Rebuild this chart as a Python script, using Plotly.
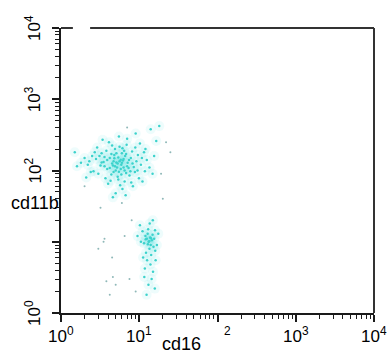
import math
import plotly.graph_objects as go

# Cluster 1 (CD11b high, CD16 low)
c1_x = [5.1,4.6,5.8,6.3,4.2,3.9,5.5,7.1,4.8,6.0,
        3.5,3.2,2.8,2.5,2.2,7.8,8.5,9.2,6.8,5.3,
        4.4,3.7,6.5,7.5,8.8,10.5,11.8,12.5,4.9,5.6,
        3.8,6.9,4.1,2.9,3.3,8.1,9.6,5.2,5.9,4.7,
        5.4,6.2,4.5,5.0,6.6,3.6,7.3,4.3,5.7,6.1,
        4.0,7.9,3.0,2.6,2.3,2.0,1.8,1.6,1.5,9.9,
        11.0,8.3,5.0,6.7,4.6,13.5,14.8,15.5,12.0,10.2,
        7.0,5.5,3.4,9.0,14.0,16.5,18.0,6.4,5.1,4.8,
        5.3,5.6,6.0,4.9,5.8,6.3,4.4,3.9,7.4,8.2,
        7.0,6.8,3.1,2.7,2.4,2.1,9.5,10.8,11.5,8.9,
        4.2,5.9,6.5,3.6,7.7,4.7,5.4,3.3,6.1,4.5]
c1_y = [130,118,142,110,150,105,96,128,165,175,
        132,118,145,160,120,150,112,135,92,82,
        88,78,70,85,95,120,98,140,200,215,
        190,230,250,210,175,185,165,110,120,135,
        152,138,125,100,160,155,108,72,62,55,
        65,68,90,98,135,150,128,115,180,78,
        70,60,48,45,42,110,90,160,200,240,
        280,300,270,330,380,260,420,190,175,148,
        125,135,128,115,105,145,170,140,140,125,
        115,170,160,180,95,80,100,150,180,210,
        108,88,100,115,98,95,75,130,205,225]

# Cluster 2 (CD11b low, CD16 ~10)
c2_x = [12.5,13.2,14.0,12.0,13.8,14.5,11.5,15.2,12.8,13.5,
        14.8,16.0,11.0,12.2,15.5,13.0,10.5,16.8,14.2,12.6,
        13.9,11.8,15.0,14.4,13.1,15.8,12.4,16.2,11.2,10.2,
        13.6,14.9,9.5,17.5,12.9,13.4,14.1,12.1,15.9,11.6]
c2_y = [11,10,9,12,11.5,10.5,9.5,8.5,13,8,
        12.5,7.5,14,7,11,15,10,9,6.5,5.5,
        4.8,4.2,3.8,3.0,2.5,2.2,1.8,5.5,6,17,
        18,20,12,13,9.2,10.2,11.2,10.8,14.5,3.2]

# Scattered events
o_x = [8.0,6.5,4.5,5.0,7.5,4.2,9.0,3.2,6.0,20,3.0,22,25,19,7.0,2.0,3.5,3.8,4.6,3.6]
o_y = [20,12,6,2.5,3,1.8,2,30,35,40,8,250,180,90,400,60,10,2.8,3.2,11]

decades = [1, 10, 100, 1000, 10000]
x_ticktext = ["10<sup>0</sup>", "10<sup>1</sup>",
              "<span style='color:white'>10</span><sup>2</sup>",
              "10<sup>3</sup>", "10<sup>4</sup>"]
y_ticktext = ["10<sup>0</sup>", "", "10<sup>2</sup>", "10<sup>3</sup>", "10<sup>4</sup>"]

fig = go.Figure()
fig.add_trace(go.Scatter(x=c1_x + c2_x, y=c1_y + c2_y, mode="markers",
                         marker=dict(size=10, color="rgba(90,230,225,0.10)"),
                         hoverinfo="skip", showlegend=False))
fig.add_trace(go.Scatter(x=c1_x + c2_x, y=c1_y + c2_y, mode="markers",
                         marker=dict(size=2.5, color="#3cd2cc"),
                         showlegend=False))
fig.add_trace(go.Scatter(x=o_x, y=o_y, mode="markers",
                         marker=dict(size=2, color="#8fb8b8"),
                         showlegend=False))

font = dict(family="Liberation Sans, Arial", size=17, color="black")
axis_common = dict(type="log", range=[0, 4], dtick=1,
                   showline=True, linecolor="#1a1a1a", linewidth=2,
                   ticks="outside", ticklen=7, tickwidth=2, tickcolor="#1a1a1a",
                   showticklabels=False,
                   minor=dict(ticks="outside", ticklen=4, tickwidth=1, tickcolor="#1a1a1a",
                              dtick="D1"))
fig.update_xaxes(**axis_common)
fig.update_yaxes(**axis_common)

for v, t in zip(decades, x_ticktext):
    if t:
        fig.add_annotation(text=t, xref="x", yref="paper", x=math.log10(v), y=0,
                           yanchor="top", xanchor="center", yshift=-9,
                           showarrow=False, font=font)
for v, t in zip(decades, y_ticktext):
    if t:
        fig.add_annotation(text=t, xref="paper", yref="y", x=0, y=math.log10(v),
                           xanchor="center", yanchor="middle", xshift=-28,
                           textangle=-90, showarrow=False, font=font)

fig.add_shape(type="line", xref="paper", yref="paper", x0=0, x1=0.038, y0=1, y1=1,
              line=dict(color="#333333", width=2))
fig.add_shape(type="line", xref="paper", yref="paper", x0=0.093, x1=1, y0=1, y1=1,
              line=dict(color="#333333", width=2))
fig.add_shape(type="line", xref="paper", yref="paper", x0=1, x1=1, y0=0, y1=1,
              line=dict(color="#333333", width=2))

fig.add_annotation(text="cd11b", xref="paper", yref="paper", x=-0.165, y=0.385,
                   showarrow=False, xanchor="left", yanchor="middle",
                   font=dict(family="Liberation Sans, Arial", size=18, color="black"))
fig.add_annotation(text="cd16", xref="paper", yref="paper", x=0.385, y=-0.11,
                   showarrow=False, xanchor="center", yanchor="middle",
                   font=dict(family="Liberation Sans, Arial", size=18, color="black"))

fig.update_layout(width=390, height=361, margin=dict(l=61, r=16, t=28, b=48),
                  plot_bgcolor="white", paper_bgcolor="white")

fig.write_html("out.html")
